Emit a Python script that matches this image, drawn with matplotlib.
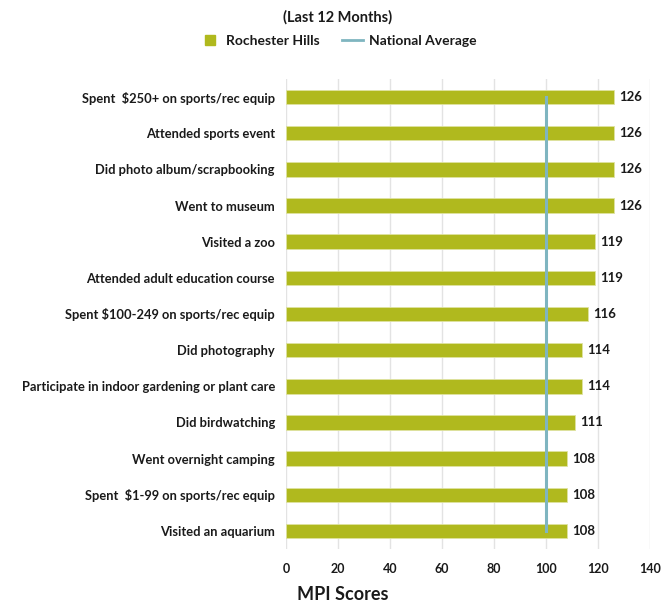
import numpy as np
import matplotlib
matplotlib.use("Agg")
import matplotlib.pyplot as plt
from matplotlib.lines import Line2D

plt.rcParams['font.family'] = ['Lato', 'DejaVu Sans']

categories = [
    "Spent  $250+ on sports/rec equip",
    "Attended sports event",
    "Did photo album/scrapbooking",
    "Went to museum",
    "Visited a zoo",
    "Attended adult education course",
    "Spent $100-249 on sports/rec equip",
    "Did photography",
    "Participate in indoor gardening or plant care",
    "Did birdwatching",
    "Went overnight camping",
    "Spent  $1-99 on sports/rec equip",
    "Visited an aquarium",
]
rochester = [126, 126, 126, 126, 119, 119, 116, 114, 114, 111, 108, 108, 108]
national = 100

bar_color = '#b0b91e'
line_color = '#7fb5c0'

fig = plt.figure(figsize=(6.69, 6.03), dpi=100)
ax = fig.add_axes([286 / 669, 1 - 549 / 603, 364 / 669, 470 / 603])

y = np.arange(len(categories))
ax.barh(y, rochester, height=0.4, color=bar_color, edgecolor='#dfe3a0', linewidth=0.6, zorder=2)
ax.plot([national, national], [y[0], y[-1]], color=line_color, linewidth=2.2, zorder=3)

for yi, v in zip(y, rochester):
    ax.text(v + 2, yi, str(v), va='center', ha='left', fontsize=9.5, fontweight='bold', color='#1a1a1a')

ax.set_ylim(len(categories) - 0.5, -0.5)
ax.set_xlim(0, 140)
ax.set_xticks(np.arange(0, 141, 20))
ax.set_yticks(y)
ax.set_yticklabels(categories, fontsize=9.3, fontweight='bold', color='#1a1a1a')
for lbl in ax.get_xticklabels():
    lbl.set_fontweight('bold')
    lbl.set_fontsize(9)
    lbl.set_color('#1a1a1a')
ax.tick_params(axis='both', length=0)
ax.tick_params(axis='x', pad=10)
ax.tick_params(axis='y', pad=8)
ax.grid(axis='x', color='#e3e3e3', linewidth=1, zorder=0)
ax.set_axisbelow(True)
for s in ax.spines.values():
    s.set_visible(False)

fig.text(297 / 669, 1 - 595 / 603, "MPI Scores", fontsize=13, fontweight='bold',
         va='center', ha='left', color='#1a1a1a')
fig.text(338 / 669, 1 - 17 / 603, "(Last 12 Months)", fontsize=10.5, fontweight='bold',
         va='center', ha='center', color='#1a1a1a')

handles = [Line2D([0], [0], marker='s', linestyle='none', markersize=7,
                  markerfacecolor=bar_color, markeredgecolor=bar_color),
           Line2D([0], [0], color=line_color, linewidth=2)]
leg = fig.legend(handles, ["Rochester Hills", "National Average"], loc='center',
                 bbox_to_anchor=(338 / 669, 1 - 41 / 603), ncol=2, frameon=False,
                 handlelength=1.5, columnspacing=1.6, handletextpad=0.4,
                 prop={'weight': 'bold', 'size': 10})
leg.legend_handles[0].set_markersize(7)
for t in leg.get_texts():
    t.set_color('#1a1a1a')

fig.savefig("out.png", dpi=100)
